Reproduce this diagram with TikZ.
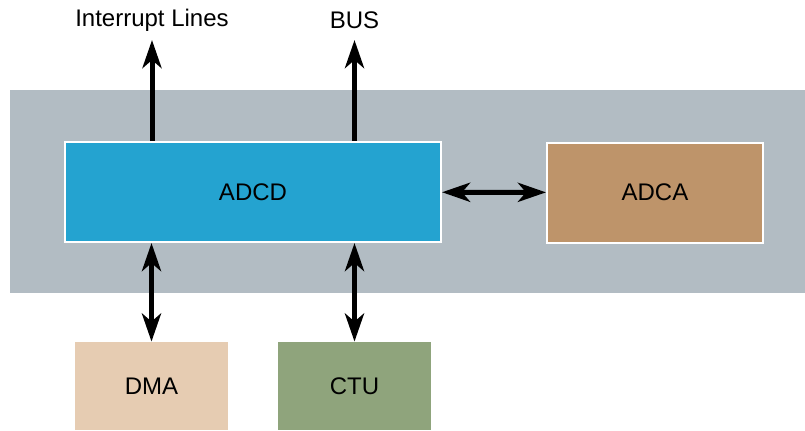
\documentclass[tikz,border=0pt]{standalone}
\usepackage{fontspec}
\setmainfont{Liberation Sans}
\usepackage{tikz}
\usetikzlibrary{arrows.meta}
\definecolor{bandgray}{RGB}{178,188,195}
\definecolor{adcdblue}{RGB}{36,163,208}
\definecolor{adcabrown}{RGB}{190,148,106}
\definecolor{dmatan}{RGB}{230,204,178}
\definecolor{ctugreen}{RGB}{143,164,124}

\begin{document}
\begin{tikzpicture}[x=0.5pt, y=-0.5pt,
        unit/.style={draw=white, line width=1pt, minimum height=50pt, inner sep=0pt, font=\fontsize{12}{14}\selectfont},
        ext/.style={minimum height=44pt, inner sep=0pt, font=\fontsize{12}{14}\selectfont},
        link/.style={line width=2.5pt, -{Stealth[length=14pt, width=9.5pt, inset=4pt]}},
        dlink/.style={line width=2.5pt, {Stealth[length=14pt, width=9.5pt, inset=4pt]}-{Stealth[length=14pt, width=9.5pt, inset=4pt]}}]
        \useasboundingbox (0,0) rectangle (805,430);

        % Background
        \fill[bandgray] (10,90) rectangle (805,293);

        % Nodes
        \node[unit, fill=adcdblue, minimum width=188pt] (adcd) at (253,192) {ADCD};
        \node[unit, fill=adcabrown, minimum width=108pt] (adca) at (655,192.5) {ADCA};
        \node[ext, fill=dmatan, minimum width=76.5pt] (dma) at (151.5,386) {DMA};
        \node[ext, fill=ctugreen, minimum width=76.5pt] (ctu) at (354.5,386) {CTU};

        % Labels
        \node[font=\fontsize{12}{14}\selectfont] (intlbl) at (152,20) {Interrupt Lines};
        \node[font=\fontsize{12}{14}\selectfont] (buslbl) at (354.5,20) {BUS};
        \coordinate (inttip) at (152,40);
        \coordinate (bustip) at (354.5,40);

        % Edges
        \draw[link] (adcd.north -| inttip) -- (inttip);
        \draw[link] (adcd.north -| bustip) -- (bustip);
        \draw[dlink] (adcd) -- (adca);
        \draw[dlink] (adcd.south -| dma) -- (dma);
        \draw[dlink] (adcd.south -| ctu) -- (ctu);
    \end{tikzpicture}
\end{document}
